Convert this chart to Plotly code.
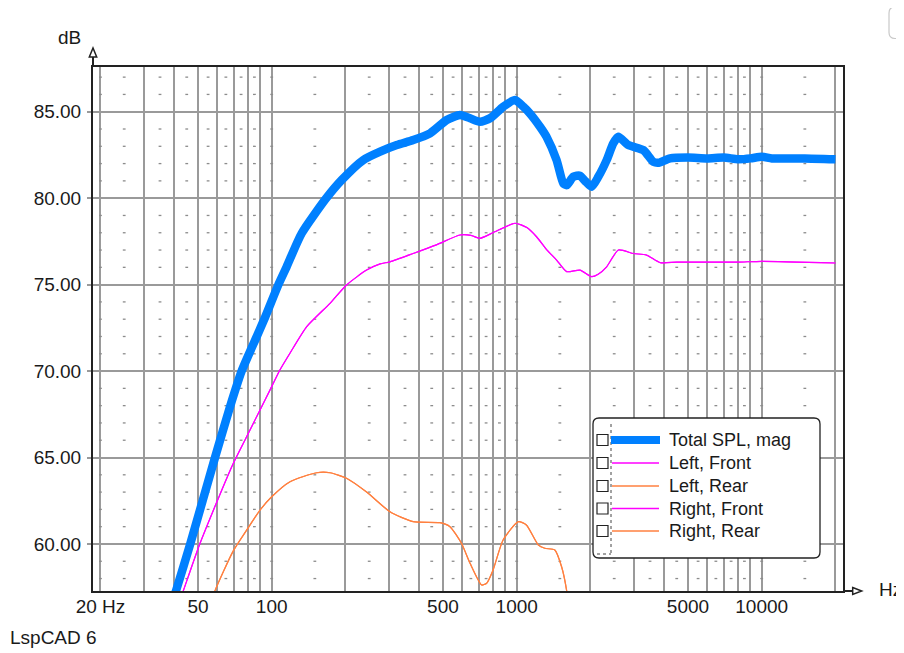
import plotly.graph_objects as go

# ---------------- data ----------------
total_f = [38, 40.7, 46.5, 58.7, 67.6, 75.4, 86.9, 93.9, 106.5, 115.1, 132.6, 167, 193,
           236, 277, 324, 378, 443, 518, 587, 645, 708, 778, 881, 984, 1064, 1132,
           1245, 1323, 1455, 1549, 1600, 1702, 1812, 1900, 2022, 2154, 2329, 2478, 2600,
           2856, 3290, 3615, 3800, 4227, 5000, 6000, 7000, 8000, 9000, 10000, 11000,
           13000, 15000, 20000]
total_db = [56.0, 57.3, 60.0, 65.0, 67.94, 70.0, 72.0, 73.1, 75.0, 76.04, 77.97, 80.0, 81.05,
            82.2, 82.69, 83.07, 83.36, 83.75, 84.52, 84.81, 84.62,
            84.42, 84.62, 85.29, 85.68, 85.29, 84.9, 84.13, 83.55, 82.2, 80.86, 80.75,
            81.24, 81.3, 81.0, 80.66, 81.24, 82.2, 83.17, 83.55, 83.07, 82.78, 82.1, 82.05,
            82.3, 82.35, 82.3, 82.35, 82.25, 82.3, 82.4, 82.3, 82.3, 82.3, 82.25]

left_front_f = [40, 43.6, 51, 68.7, 79, 89.6, 100, 108, 118.7, 139, 173, 202, 244, 277, 304,
                378, 470, 587, 650, 708, 800, 984, 1100, 1205, 1330, 1455, 1599, 1812, 2022,
                2150, 2329, 2600, 2996, 3386, 3855, 4500, 6000, 8000, 10000, 20000]
left_front_db = [55.8, 57.3, 60.04, 64.47, 66.2, 67.75, 69.1, 70.06, 71.03, 72.57, 73.92,
                 74.98, 75.84, 76.2, 76.32, 76.8, 77.3, 77.87, 77.85, 77.68, 78.0, 78.55,
                 78.3, 77.77, 77.0, 76.42, 75.75, 75.84, 75.46, 75.6, 76.03, 77.0, 76.8,
                 76.71, 76.27, 76.3, 76.3, 76.3, 76.35, 76.25]

right_front_f = list(left_front_f)
right_front_db = list(left_front_db)

left_rear_f = [52, 58.7, 69.7, 79, 89.6, 100, 118.8, 152.6, 173, 202, 244, 304, 378, 486,
               534, 595, 645, 719, 754, 801, 880, 1016, 1095, 1226, 1302, 1431, 1525, 1599,
               1700]
left_rear_db = [55.0, 57.3, 59.6, 60.8, 61.96, 62.73, 63.6, 64.12, 64.12, 63.8, 63.0, 61.86,
                61.29, 61.23, 61.0, 60.04, 58.88, 57.63, 57.73, 58.5, 60.23, 61.29, 61.1,
                59.94, 59.75, 59.65, 58.68, 57.3, 54.0]

right_rear_f = list(left_rear_f)
right_rear_db = list(left_rear_db)

series_names = ["Total SPL, mag", "Left, Front", "Left, Rear", "Right, Front", "Right, Rear"]

# axis ticks / grid
x_grid = [m * d for d in (10, 100, 1000) for m in range(1, 10) if m * d >= 20] + [10000, 20000]
x_label_map = {20: "20 Hz", 50: "50", 100: "100", 500: "500", 1000: "1000",
               5000: "5000", 10000: "10000"}
x_ticktext = [x_label_map.get(v, "") for v in x_grid]
y_major = [60, 65, 70, 75, 80, 85]
y_ticktext = ["%.2f" % v for v in y_major]

# minor dot grid
dot_mults = [1, 1.5, 2.5, 3.5, 4.5, 5.5, 6.5, 7.5, 8.5]
dot_x_vals = [20] + [m * d for d in (10, 100, 1000, 10000) for m in dot_mults if 20 < m * d <= 20000]
dot_y_vals = [v for v in range(58, 88) if v % 5 != 0]

# ---------------- layout geometry ----------------
OFF = 8                      # page body margin
W, H = 904 - OFF, 653 - OFF
L, T = 93 - OFF, 67 - OFF
PW, PH = 750, 524
R = W - L - PW
B = H - T - PH


def px(x, y):
    """page pixel -> paper coords"""
    return (x - OFF - L) / PW, (T + PH - (y - OFF)) / PH


FONT = "Liberation Sans, Arial, sans-serif"

fig = go.Figure()

# dot grid
dx, dy = [], []
for yv in dot_y_vals:
    for xv in dot_x_vals:
        dx.append(xv)
        dy.append(yv)
fig.add_trace(go.Scatter(x=dx, y=dy, mode="markers", hoverinfo="skip", showlegend=False,
                         marker=dict(symbol="line-ew", size=2,
                                     line=dict(width=1.3, color="#8c8c8c"))))

colors = ["#0080FF", "#FF00FF", "#FF8040", "#FF00FF", "#FF8040"]
widths = [8.5, 1.2, 1.2, 1.2, 1.2]
data = [(total_f, total_db), (left_front_f, left_front_db), (left_rear_f, left_rear_db),
        (right_front_f, right_front_db), (right_rear_f, right_rear_db)]
for (fx, fy), name, c, w in zip(data, series_names, colors, widths):
    fig.add_trace(go.Scatter(x=fx, y=fy, mode="lines", name=name, showlegend=False,
                             line=dict(color=c, width=w, shape="spline", smoothing=0.6)))

x_lo = 1.2706
x_hi = x_lo + PW / 245.0
y_lo = 57.28
y_hi = y_lo + PH / 17.29

fig.update_layout(
    width=W, height=H, autosize=False,
    margin=dict(l=L, r=R, t=T, b=B, pad=0),
    paper_bgcolor="white", plot_bgcolor="white",
    font=dict(family=FONT, size=19, color="#1a1a1a"),
    xaxis=dict(type="log", range=[x_lo, x_hi], tickmode="array", tickvals=x_grid,
               ticktext=x_ticktext, showgrid=True, gridcolor="#9a9a9a", gridwidth=1.5,
               showline=True, mirror=True, linecolor="#222", linewidth=2,
               ticks="", ticklabelstandoff=-3, zeroline=False,
               tickfont=dict(family=FONT, size=19, color="#1a1a1a")),
    yaxis=dict(range=[y_lo, y_hi], tickmode="array", tickvals=y_major, ticktext=y_ticktext,
               showgrid=True, gridcolor="#9a9a9a", gridwidth=1.5,
               showline=True, mirror=True, linecolor="#222", linewidth=2,
               ticks="outside", ticklen=4, tickcolor="#9a9a9a", tickwidth=1.5,
               ticklabelstandoff=2, zeroline=False,
               tickfont=dict(family=FONT, size=19, color="#1a1a1a")),
    showlegend=False,
)

shapes = []
# axis arrows
x0, y67 = px(93, 67)
_, y57 = px(93, 57)
_, y48 = px(93, 48)
ax1, _ = px(89.3, 0)
ax2, _ = px(96.7, 0)
shapes.append(dict(type="line", xref="paper", yref="paper", x0=x0, x1=x0, y0=y67, y1=y57,
                   line=dict(color="#222", width=2)))
shapes.append(dict(type="path", xref="paper", yref="paper",
                   path=f"M {ax1} {y57} L {x0} {y48} L {ax2} {y57} Z",
                   line=dict(color="#222", width=1.5), fillcolor="white"))
xa, yb = px(843, 591)
xb, _ = px(852.7, 591)
xc, _ = px(861.7, 591)
_, yu = px(0, 587.5)
_, yd = px(0, 594.5)
shapes.append(dict(type="line", xref="paper", yref="paper", x0=xa, x1=xb, y0=yb, y1=yb,
                   line=dict(color="#222", width=2)))
shapes.append(dict(type="path", xref="paper", yref="paper",
                   path=f"M {xb} {yu} L {xc} {yb} L {xb} {yd} Z",
                   line=dict(color="#222", width=1.5), fillcolor="white"))


def rounded_rect(xl, yt, xr, ybm, r):
    pts = []
    a = px(xl + r, yt); pts.append(f"M {a[0]} {a[1]}")
    a = px(xr - r, yt); pts.append(f"L {a[0]} {a[1]}")
    c = px(xr, yt); a = px(xr, yt + r); pts.append(f"Q {c[0]} {c[1]} {a[0]} {a[1]}")
    a = px(xr, ybm - r); pts.append(f"L {a[0]} {a[1]}")
    c = px(xr, ybm); a = px(xr - r, ybm); pts.append(f"Q {c[0]} {c[1]} {a[0]} {a[1]}")
    a = px(xl + r, ybm); pts.append(f"L {a[0]} {a[1]}")
    c = px(xl, ybm); a = px(xl, ybm - r); pts.append(f"Q {c[0]} {c[1]} {a[0]} {a[1]}")
    a = px(xl, yt + r); pts.append(f"L {a[0]} {a[1]}")
    c = px(xl, yt); a = px(xl + r, yt); pts.append(f"Q {c[0]} {c[1]} {a[0]} {a[1]}")
    pts.append("Z")
    return " ".join(pts)


# top-right partial button
shapes.append(dict(type="path", xref="paper", yref="paper",
                   path=rounded_rect(889, 7, 915, 38.5, 6),
                   line=dict(color="#c8c8c8", width=1.2), fillcolor="white"))

# legend box
shapes.append(dict(type="path", xref="paper", yref="paper",
                   path=rounded_rect(593, 418, 820, 558, 6),
                   line=dict(color="#222", width=1.3), fillcolor="white"))
# dotted separator
p1 = px(611, 424); p2 = px(611, 554); p3 = px(597, 554)
shapes.append(dict(type="line", xref="paper", yref="paper", x0=p1[0], y0=p1[1], x1=p2[0], y1=p2[1],
                   line=dict(color="#444", width=1, dash="dot")))
shapes.append(dict(type="line", xref="paper", yref="paper", x0=p3[0], y0=p3[1], x1=p2[0], y1=p2[1],
                   line=dict(color="#444", width=1, dash="dot")))

row_y = [440, 463, 486, 508.5, 531]
annotations = []
for i, (name, c, w) in enumerate(zip(series_names, colors, widths)):
    ry = row_y[i]
    if i == 0:
        a = px(611, ry); b = px(660, ry)
        shapes.append(dict(type="line", xref="paper", yref="paper", x0=a[0], y0=a[1], x1=b[0], y1=b[1],
                           line=dict(color=c, width=8)))
    else:
        a = px(612, ry); b = px(659, ry)
        shapes.append(dict(type="line", xref="paper", yref="paper", x0=a[0], y0=a[1], x1=b[0], y1=b[1],
                           line=dict(color=c, width=1.6)))
    s0 = px(597, ry - 5.5); s1 = px(608, ry + 5.5)
    shapes.append(dict(type="rect", xref="paper", yref="paper", x0=s0[0], y0=s0[1], x1=s1[0], y1=s1[1],
                       line=dict(color="#222", width=1.2), fillcolor="white"))
    t = px(667, ry)
    annotations.append(dict(xref="paper", yref="paper", x=t[0], y=t[1], text=name, showarrow=False,
                            xanchor="left", yanchor="middle",
                            font=dict(family=FONT, size=18, color="#1a1a1a")))

p = px(69, 37)
annotations.append(dict(xref="paper", yref="paper", x=p[0], y=p[1], text="dB", showarrow=False,
                        xanchor="center", yanchor="middle", font=dict(family=FONT, size=19, color="#1a1a1a")))
p = px(877, 589)
annotations.append(dict(xref="paper", yref="paper", x=p[0], y=p[1], text="Hz", showarrow=False,
                        xanchor="left", yanchor="middle", font=dict(family=FONT, size=19, color="#1a1a1a")))
p = px(8, 637)
annotations.append(dict(xref="paper", yref="paper", x=p[0], y=p[1], text="LspCAD 6", showarrow=False,
                        xanchor="left", yanchor="middle", font=dict(family=FONT, size=19, color="#1a1a1a")))

fig.update_layout(shapes=shapes, annotations=annotations)
fig.write_html("out.html")
